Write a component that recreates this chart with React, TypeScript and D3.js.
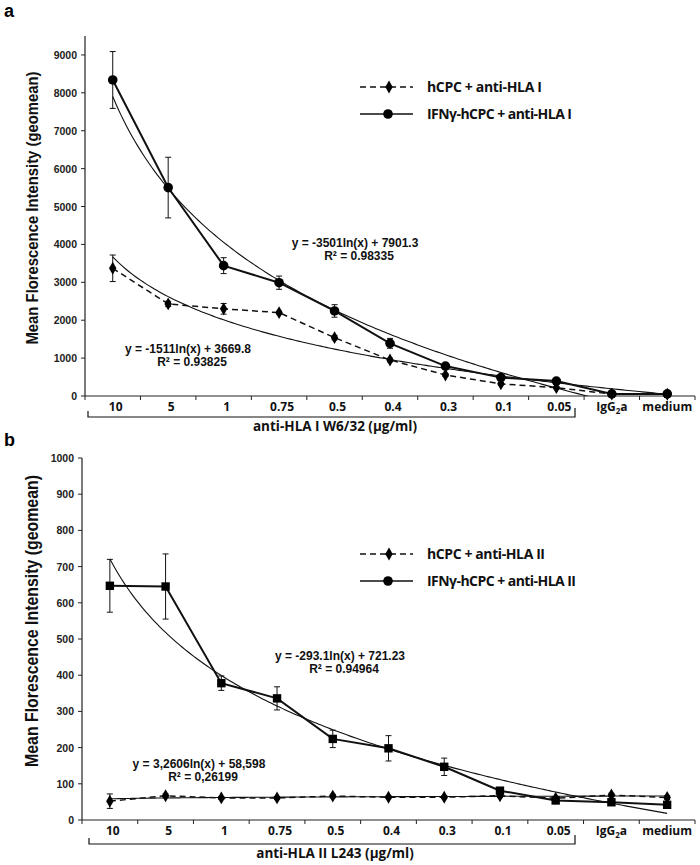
import React from "react";
import * as d3 from "d3";

const categories = ["10", "5", "1", "0.75", "0.5", "0.4", "0.3", "0.1", "0.05", "IgG2a", "medium"];

const hla1Hcpc = [3370, 2430, 2300, 2200, 1540, 950, 555, 320, 220, 50, 45];
const hla1HcpcErr = [350, 70, 140, 40, 60, 50, 40, 30, 30, 0, 0];
const hla1Ifn = [8340, 5500, 3440, 2990, 2245, 1390, 790, 485, 395, 55, 55];
const hla1IfnErr = [750, 800, 210, 175, 165, 130, 50, 50, 40, 0, 0];

const hla2Hcpc = [52, 67, 61, 61, 66, 63, 63, 67, 60, 69, 62];
const hla2HcpcErr = [20, 5, 4, 4, 5, 4, 4, 5, 4, 5, 5];
const hla2Ifn = [647, 645, 378, 336, 224, 198, 147, 81, 54, 49, 42];
const hla2IfnErr = [73, 90, 20, 32, 24, 35, 24, 8, 6, 5, 5];

// trendline coefficients: y = a*ln(x) + b
const hla1IfnTrend = [-3501, 7901.3];
const hla1HcpcTrend = [-1511, 3669.8];
const hla2IfnTrend = [-293.1, 721.23];
const hla2HcpcTrend = [3.2606, 58.598];

const yTicks1 = [0, 1000, 2000, 3000, 4000, 5000, 6000, 7000, 8000, 9000];
const yTicks2 = [0, 100, 200, 300, 400, 500, 600, 700, 800, 900, 1000];

const TICK_FONT = "'Liberation Sans', Arial, sans-serif";
const CAT_FONT = "'Open Sans', sans-serif";

type PanelProps = {
  id: string;
  letter: string;
  letterY: number;
  x0: number;
  x1: number;
  yBottom: number;
  yTop: number;
  yMax: number;
  yTicks: number[];
  hcpc: number[];
  hcpcErr: number[];
  ifn: number[];
  ifnErr: number[];
  ifnTrend: number[];
  hcpcTrend: number[];
  ifnMarker: "circle" | "square";
  legendY: number[];
  legend: string[];
  legendLen: number[];
  eqIfn: string[];
  eqIfnPos: number[];
  eqHcpc: string[];
  eqHcpcPos: number[];
  axisTitle: string;
  axisTitleY: number;
  yTitleCenter: number;
  yTitleSize: number;
  yTitleLen: number;
  bracketY: number;
  bracketLeft: number;
};

function Panel(p: PanelProps) {
  const x = d3.scaleLinear().domain([0.5, 11.5]).range([p.x0, p.x1]);
  const y = d3.scaleLinear().domain([0, p.yMax]).range([p.yBottom, p.yTop]);

  const line = d3
    .line<number>()
    .x((_, i) => x(i + 1))
    .y((v) => y(v));

  const trendPts = d3.range(1, 11.0001, 0.05);
  const trendLine = (c: number[]) =>
    d3
      .line<number>()
      .x((t) => x(t))
      .y((t) => y(c[0] * Math.log(t) + c[1]))(trendPts) || "";

  const diamond = d3.symbol().type(d3.symbolDiamond).size(48)() || "";
  const boundaries = d3.range(0.5, 11.6, 1);

  const errBars = (vals: number[], errs: number[]) =>
    vals.map((v, i) =>
      errs[i] > 0 ? (
        <g key={i} stroke="#111" strokeWidth={1}>
          <line x1={x(i + 1)} x2={x(i + 1)} y1={y(v - errs[i])} y2={y(v + errs[i])} />
          <line x1={x(i + 1) - 3} x2={x(i + 1) + 3} y1={y(v - errs[i])} y2={y(v - errs[i])} />
          <line x1={x(i + 1) - 3} x2={x(i + 1) + 3} y1={y(v + errs[i])} y2={y(v + errs[i])} />
        </g>
      ) : null
    );

  const ifnMark = (cx: number, cy: number, key: any, kind: string) =>
    kind === "circle" ? (
      <circle key={key} cx={cx} cy={cy} r={4.8} fill="#000" />
    ) : (
      <rect key={key} x={cx - 4.2} y={cy - 4.2} width={8.4} height={8.4} fill="#000" />
    );

  return (
    <g>
      <defs>
        <clipPath id={"clip" + p.id}>
          <rect x={p.x0} y={p.yTop} width={p.x1 - p.x0} height={p.yBottom - p.yTop} />
        </clipPath>
      </defs>
      <text x={4} y={p.letterY} fontFamily={TICK_FONT} fontWeight="bold" fontSize={18} fill="#000">
        {p.letter}
      </text>
      {/* y axis */}
      <line x1={p.x0} x2={p.x0} y1={p.yTop} y2={p.yBottom} stroke="#222" strokeWidth={1.2} />
      {p.yTicks.map((t) => (
        <g key={t}>
          <line x1={p.x0 - 4} x2={p.x0} y1={y(t)} y2={y(t)} stroke="#222" strokeWidth={1} />
          <text
            x={p.x0 - 8}
            y={y(t) + 4}
            textAnchor="end"
            fontFamily={TICK_FONT}
            fontWeight="bold"
            fontSize={10.5}
            fill="#222"
          >
            {t}
          </text>
        </g>
      ))}
      {/* x axis */}
      <line x1={p.x0} x2={p.x1} y1={p.yBottom} y2={p.yBottom} stroke="#222" strokeWidth={1.2} />
      {boundaries.map((b) => (
        <line key={b} x1={x(b)} x2={x(b)} y1={p.yBottom} y2={p.yBottom + 4} stroke="#222" strokeWidth={1} />
      ))}
      {categories.map((c, i) => (
        <text
          key={c}
          x={x(i + 1) + (i < 9 ? 3 : 0)}
          y={p.yBottom + 15}
          textAnchor="middle"
          fontFamily={CAT_FONT}
          fontWeight="bold"
          fontSize={12}
          fill="#111"
        >
          {c === "IgG2a" ? (
            <>
              IgG
              <tspan fontSize={8} dy={3}>
                2
              </tspan>
              <tspan dy={-3}>a</tspan>
            </>
          ) : (
            c
          )}
        </text>
      ))}
      {/* bracket */}
      <path
        d={`M${p.bracketLeft},${p.bracketY - 6}V${p.bracketY}H575V${p.bracketY - 9}`}
        fill="none"
        stroke="#111"
        strokeWidth={1.2}
      />
      <text
        x={335}
        y={p.axisTitleY}
        textAnchor="middle"
        fontFamily={CAT_FONT}
        fontWeight="bold"
        fontSize={13.5}
        fill="#111"
      >
        {p.axisTitle}
      </text>
      {/* y title */}
      <text
        transform={`translate(38,${p.yTitleCenter}) rotate(-90)`}
        textAnchor="middle"
        fontFamily={TICK_FONT}
        fontWeight="bold"
        fontSize={p.yTitleSize}
        textLength={p.yTitleLen}
        lengthAdjust="spacingAndGlyphs"
        fill="#111"
      >
        Mean Florescence Intensity (geomean)
      </text>
      {/* trend lines */}
      <g clipPath={`url(#clip${p.id})`} fill="none" stroke="#111" strokeWidth={1.1}>
        <path d={trendLine(p.ifnTrend)} />
        <path d={trendLine(p.hcpcTrend)} />
      </g>
      {/* hcpc dashed */}
      <path d={line(p.hcpc) || ""} fill="none" stroke="#111" strokeWidth={1.5} strokeDasharray="6,4" />
      {errBars(p.hcpc, p.hcpcErr)}
      {p.hcpc.map((v, i) => (
        <path key={i} d={diamond} transform={`translate(${x(i + 1)},${y(v)})`} fill="#000" />
      ))}
      {/* ifn solid */}
      <path d={line(p.ifn) || ""} fill="none" stroke="#111" strokeWidth={2} />
      {errBars(p.ifn, p.ifnErr)}
      {p.ifn.map((v, i) => ifnMark(x(i + 1), y(v), i, p.ifnMarker))}
      {/* equations */}
      {[
        [p.eqIfn, p.eqIfnPos],
        [p.eqHcpc, p.eqHcpcPos],
      ].map(([eq, pos]: any, k) => (
        <g key={k} fontFamily={TICK_FONT} fontWeight="bold" fontSize={12} fill="#111">
          <text x={pos[0]} y={pos[1]} textAnchor="middle">
            {eq[0]}
          </text>
          <text x={pos[0] + 4} y={pos[1] + 12.5} textAnchor="middle">
            {eq[1]}
          </text>
        </g>
      ))}
      {/* legend */}
      <g>
        <line x1={360} x2={413} y1={p.legendY[0]} y2={p.legendY[0]} stroke="#111" strokeWidth={1.5} strokeDasharray="6,4" />
        <path d={diamond} transform={`translate(389,${p.legendY[0]})`} fill="#000" />
        <line x1={360} x2={413} y1={p.legendY[1]} y2={p.legendY[1]} stroke="#111" strokeWidth={1.5} />
        <circle cx={388} cy={p.legendY[1]} r={4.8} fill="#000" />
        {p.legend.map((l, i) => (
          <text
            key={i}
            x={427}
            y={p.legendY[i] + 5}
            fontFamily={CAT_FONT}
            fontWeight="bold"
            fontSize={14}
            textLength={p.legendLen[i]}
            lengthAdjust="spacing"
            fill="#111"
          >
            {l}
          </text>
        ))}
      </g>
    </g>
  );
}

export default function App() {
  return (
    <svg
      width={700}
      height={865}
      style={{ position: "absolute", left: 0, top: 0, background: "#fff" }}
    >
      <rect width={700} height={865} fill="#fff" />
      <Panel
        id="a"
        letter="a"
        letterY={17}
        x0={85}
        x1={695}
        yBottom={396}
        yTop={36}
        yMax={9500}
        yTicks={yTicks1}
        hcpc={hla1Hcpc}
        hcpcErr={hla1HcpcErr}
        ifn={hla1Ifn}
        ifnErr={hla1IfnErr}
        ifnTrend={hla1IfnTrend}
        hcpcTrend={hla1HcpcTrend}
        ifnMarker="circle"
        legendY={[87, 114]}
        legend={["hCPC + anti-HLA I", "IFNγ-hCPC + anti-HLA I"]}
        legendLen={[115, 145]}
        eqIfn={["y = -3501ln(x) + 7901.3", "R² = 0.98335"]}
        eqIfnPos={[355, 247]}
        eqHcpc={["y = -1511ln(x) + 3669.8", "R² = 0.93825"]}
        eqHcpcPos={[188, 353]}
        axisTitle="anti-HLA I W6/32 (μg/ml)"
        axisTitleY={431}
        yTitleCenter={208}
        yTitleSize={17}
        yTitleLen={273}
        bracketY={417}
        bracketLeft={88}
      />
      <Panel
        id="b"
        letter="b"
        letterY={446}
        x0={82}
        x1={695}
        yBottom={820}
        yTop={458}
        yMax={1000}
        yTicks={yTicks2}
        hcpc={hla2Hcpc}
        hcpcErr={hla2HcpcErr}
        ifn={hla2Ifn}
        ifnErr={hla2IfnErr}
        ifnTrend={hla2IfnTrend}
        hcpcTrend={hla2HcpcTrend}
        ifnMarker="square"
        legendY={[554, 581]}
        legend={["hCPC + anti-HLA II", "IFNγ-hCPC + anti-HLA II"]}
        legendLen={[118, 149]}
        eqIfn={["y = -293.1ln(x) + 721.23", "R² = 0.94964"]}
        eqIfnPos={[340, 660]}
        eqHcpc={["y = 3,2606ln(x) + 58,598", "R² = 0,26199"]}
        eqHcpcPos={[199, 768]}
        axisTitle="anti-HLA II L243 (μg/ml)"
        axisTitleY={858}
        yTitleCenter={621}
        yTitleSize={18}
        yTitleLen={292}
        bracketY={844}
        bracketLeft={89}
      />
    </svg>
  );
}
